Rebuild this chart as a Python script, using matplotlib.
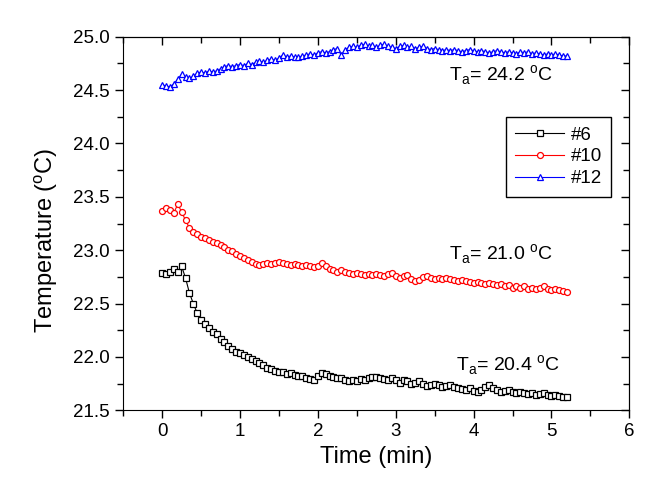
"""
Temperature vs time for three samples
"""
import matplotlib
matplotlib.use("Agg")
import matplotlib.pyplot as plt
import numpy as np

plt.rcParams['font.family'] = ['Liberation Sans', 'DejaVu Sans']
plt.rcParams['mathtext.fontset'] = 'custom'
plt.rcParams['mathtext.rm'] = 'Liberation Sans'

# sample times (min)
time_min = [
    0.00, 0.05, 0.10, 0.15, 0.20, 0.25, 0.30, 0.35, 0.40, 0.45,
    0.50, 0.55, 0.60, 0.65, 0.70, 0.75, 0.80, 0.85, 0.90, 0.95,
    1.00, 1.05, 1.10, 1.15, 1.20, 1.25, 1.30, 1.35, 1.40, 1.45,
    1.50, 1.55, 1.60, 1.65, 1.70, 1.75, 1.80, 1.85, 1.90, 1.95,
    2.00, 2.05, 2.10, 2.15, 2.20, 2.25, 2.30, 2.35, 2.40, 2.45,
    2.50, 2.55, 2.60, 2.65, 2.70, 2.75, 2.80, 2.85, 2.90, 2.95,
    3.00, 3.05, 3.10, 3.15, 3.20, 3.25, 3.30, 3.35, 3.40, 3.45,
    3.50, 3.55, 3.60, 3.65, 3.70, 3.75, 3.80, 3.85, 3.90, 3.95,
    4.00, 4.05, 4.10, 4.15, 4.20, 4.25, 4.30, 4.35, 4.40, 4.45,
    4.50, 4.55, 4.60, 4.65, 4.70, 4.75, 4.80, 4.85, 4.90, 4.95,
    5.00, 5.05, 5.10, 5.15, 5.20,
]

temp_6 = [
    22.79, 22.78, 22.80, 22.82, 22.80, 22.85, 22.74, 22.60, 22.50, 22.41,
    22.35, 22.31, 22.27, 22.23, 22.21, 22.17, 22.14, 22.10, 22.07, 22.05,
    22.04, 22.02, 22.00, 21.98, 21.96, 21.94, 21.92, 21.90, 21.89, 21.87,
    21.86, 21.86, 21.84, 21.85, 21.83, 21.82, 21.82, 21.80, 21.79, 21.78,
    21.82, 21.85, 21.84, 21.82, 21.81, 21.80, 21.80, 21.78, 21.77, 21.78,
    21.77, 21.79, 21.78, 21.80, 21.81, 21.81, 21.80, 21.79, 21.78, 21.80,
    21.78, 21.76, 21.78, 21.77, 21.75, 21.76, 21.77, 21.75, 21.73, 21.74,
    21.75, 21.74, 21.72, 21.73, 21.74, 21.72, 21.71, 21.70, 21.69, 21.71,
    21.68, 21.67, 21.69, 21.72, 21.74, 21.71, 21.69, 21.67, 21.68, 21.69,
    21.67, 21.66, 21.67, 21.66, 21.65, 21.66, 21.64, 21.65, 21.66, 21.64,
    21.63, 21.64, 21.63, 21.62, 21.62,
]

temp_10 = [
    23.37, 23.40, 23.38, 23.35, 23.43, 23.36, 23.28, 23.21, 23.17, 23.15,
    23.12, 23.11, 23.10, 23.08, 23.07, 23.05, 23.03, 23.00, 22.99, 22.96,
    22.95, 22.93, 22.91, 22.89, 22.87, 22.86, 22.87, 22.88, 22.87, 22.88,
    22.89, 22.88, 22.87, 22.86, 22.87, 22.86, 22.85, 22.86, 22.85, 22.84,
    22.85, 22.88, 22.85, 22.82, 22.81, 22.80, 22.81, 22.80, 22.79, 22.78,
    22.79, 22.78, 22.77, 22.78, 22.77, 22.78, 22.77, 22.76, 22.78, 22.79,
    22.76, 22.74, 22.76, 22.77, 22.73, 22.71, 22.72, 22.75, 22.76, 22.74,
    22.73, 22.74, 22.73, 22.74, 22.73, 22.72, 22.71, 22.72, 22.71, 22.70,
    22.69, 22.70, 22.69, 22.68, 22.69, 22.68, 22.67, 22.68, 22.66, 22.67,
    22.65, 22.66, 22.65, 22.66, 22.64, 22.65, 22.64, 22.65, 22.66, 22.64,
    22.63, 22.64, 22.63, 22.62, 22.61,
]

temp_12 = [
    24.55, 24.54, 24.53, 24.56, 24.60, 24.65, 24.62, 24.61, 24.63, 24.66,
    24.67, 24.66, 24.68, 24.67, 24.68, 24.70, 24.72, 24.73, 24.72, 24.73,
    24.74, 24.73, 24.75, 24.74, 24.76, 24.77, 24.76, 24.78, 24.79, 24.78,
    24.80, 24.83, 24.81, 24.82, 24.81, 24.81, 24.82, 24.83, 24.84, 24.83,
    24.85, 24.86, 24.85, 24.86, 24.88, 24.89, 24.83, 24.88, 24.90, 24.91,
    24.90, 24.92, 24.93, 24.91, 24.92, 24.90, 24.92, 24.93, 24.91, 24.90,
    24.89, 24.91, 24.92, 24.90, 24.91, 24.89, 24.90, 24.91, 24.89, 24.88,
    24.89, 24.88, 24.87, 24.88, 24.87, 24.88, 24.87, 24.86, 24.87, 24.88,
    24.87, 24.86, 24.87, 24.86, 24.85, 24.86, 24.87, 24.86, 24.85, 24.86,
    24.85, 24.84, 24.86, 24.85, 24.86, 24.84, 24.85, 24.84, 24.83, 24.84,
    24.83, 24.84, 24.83, 24.82, 24.82,
]

labels = ["#6", "#10", "#12"]
ambient = ["20.4", "21.0", "24.2"]

fig = plt.figure(figsize=(6.66, 5.04), dpi=100)
ax = fig.add_axes([0.185, 0.186, 0.760, 0.741])

series = [temp_6, temp_10, temp_12]
colors = ["black", "red", "blue"]
markers = ["s", "o", "^"]
for temps, lab, c, m in zip(series, labels, colors, markers):
    ax.plot(time_min, temps, color=c, lw=0.8, marker=m, ms=4.3,
            mfc="white", mec=c, mew=0.9, label=lab)

ax.set_xlim(-0.5, 6)
ax.set_ylim(21.5, 25.0)
ax.set_xticks(np.arange(0, 7, 1))
ax.set_xticks(np.arange(-0.5, 6.5, 0.5), minor=True)
ax.set_yticks(np.arange(21.5, 25.01, 0.5))
ax.set_yticks(np.arange(21.5, 25.01, 0.25), minor=True)
ax.yaxis.set_major_formatter(matplotlib.ticker.FormatStrFormatter("%.1f"))
ax.tick_params(which="both", direction="out", labelsize=13.5, width=1)
ax.tick_params(which="major", length=6)
ax.tick_params(which="minor", length=4)

# inward ticks on the top and right
top = ax.secondary_xaxis("top")
top.set_xticks(np.arange(0, 7, 1))
top.set_xticks(np.arange(-0.5, 6.5, 0.5), minor=True)
top.tick_params(which="both", direction="in", labeltop=False, width=1)
top.tick_params(which="major", length=6)
top.tick_params(which="minor", length=4)
right = ax.secondary_yaxis("right")
right.set_yticks(np.arange(21.5, 25.01, 0.5))
right.set_yticks(np.arange(21.5, 25.01, 0.25), minor=True)
right.tick_params(which="both", direction="in", labelright=False, width=1)
right.tick_params(which="major", length=6)
right.tick_params(which="minor", length=4)

ax.set_xlabel("Time (min)", fontsize=17)
ax.set_ylabel("Temperature ($^\\mathregular{o}$C)", fontsize=17)
ax.yaxis.set_label_coords(-0.125, 0.455)

ax.text(3.77, 21.87, "T$_\\mathregular{a}$= " + ambient[0] + " $^\\mathregular{o}$C",
        fontsize=14, va="baseline")
ax.text(3.68, 22.91, "T$_\\mathregular{a}$= " + ambient[1] + " $^\\mathregular{o}$C",
        fontsize=14, va="baseline")
ax.text(3.68, 24.59, "T$_\\mathregular{a}$= " + ambient[2] + " $^\\mathregular{o}$C",
        fontsize=14, va="baseline")

leg = ax.legend(loc="upper left", bbox_to_anchor=(0.756, 0.785), fontsize=13.5,
                numpoints=1, handlelength=2.6, handletextpad=0.35,
                fancybox=False, edgecolor="black", framealpha=1,
                borderaxespad=0, borderpad=0.5, labelspacing=0.25)
leg.get_frame().set_linewidth(1)

fig.savefig("out.png", dpi=100)
